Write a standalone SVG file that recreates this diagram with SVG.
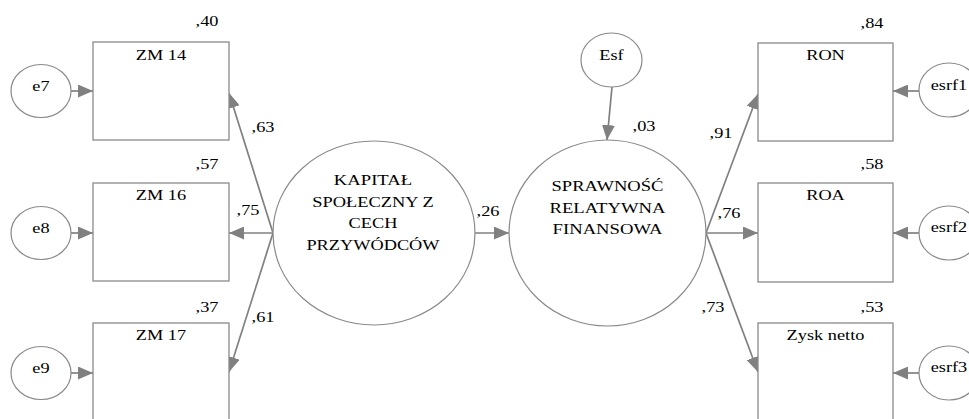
<svg xmlns="http://www.w3.org/2000/svg" width="969" height="419" viewBox="0 0 969 419">
<style>
.box{fill:#fff;stroke:#8a8a8a;stroke-width:1.3}
.ell{fill:#fff;stroke:#8a8a8a;stroke-width:1.2}
.con{stroke:#808080;stroke-width:1.7;fill:none;marker-end:url(#ah)}
</style>
<defs>
<marker id="ah" markerUnits="userSpaceOnUse" markerWidth="16" markerHeight="13" refX="15" refY="6.5" orient="auto">
<path d="M0,0 L15,6.5 L0,13 z" fill="#808080"/>
</marker>
</defs>
<rect width="969" height="419" fill="#fff"/>
<g id="connectors">
<line class="con" x1="71" y1="91" x2="93" y2="91"/>
<line class="con" x1="71" y1="233" x2="93" y2="233"/>
<line class="con" x1="71" y1="373" x2="93" y2="373"/>
<line class="con" x1="919" y1="91" x2="893" y2="91"/>
<line class="con" x1="919" y1="233" x2="893" y2="233"/>
<line class="con" x1="919" y1="373" x2="893" y2="373"/>
<line class="con" x1="273" y1="233" x2="229" y2="93"/>
<line class="con" x1="273" y1="233" x2="229" y2="233"/>
<line class="con" x1="273" y1="233" x2="229" y2="372"/>
<line class="con" x1="475" y1="233" x2="509" y2="233"/>
<line class="con" x1="612" y1="87" x2="607" y2="140"/>
<line class="con" x1="706" y1="233" x2="758" y2="94"/>
<line class="con" x1="706" y1="233" x2="758" y2="233"/>
<line class="con" x1="706" y1="233" x2="758" y2="372"/>
</g>
<g id="ZM14"><rect class="box" x="93" y="42" width="136" height="98"/><text x="161" y="60" font-family="Times New Roman, Liberation Serif, serif" font-size="15" text-anchor="middle" textLength="50.3" lengthAdjust="spacingAndGlyphs">ZM 14</text><text x="207" y="26" font-family="Times New Roman, Liberation Serif, serif" font-size="15" text-anchor="middle" textLength="22.9" lengthAdjust="spacingAndGlyphs">,40</text></g>
<g id="ZM16"><rect class="box" x="93" y="183" width="136" height="98"/><text x="161" y="200" font-family="Times New Roman, Liberation Serif, serif" font-size="15" text-anchor="middle" textLength="50.3" lengthAdjust="spacingAndGlyphs">ZM 16</text><text x="207" y="169" font-family="Times New Roman, Liberation Serif, serif" font-size="15" text-anchor="middle" textLength="22.9" lengthAdjust="spacingAndGlyphs">,57</text></g>
<g id="ZM17"><rect class="box" x="93" y="323" width="136" height="98"/><text x="161" y="340" font-family="Times New Roman, Liberation Serif, serif" font-size="15" text-anchor="middle" textLength="50.3" lengthAdjust="spacingAndGlyphs">ZM 17</text><text x="207" y="312" font-family="Times New Roman, Liberation Serif, serif" font-size="15" text-anchor="middle" textLength="22.9" lengthAdjust="spacingAndGlyphs">,37</text></g>
<g id="e7"><ellipse class="ell" cx="41" cy="91" rx="30" ry="26.5"/><text x="41" y="91" font-family="Times New Roman, Liberation Serif, serif" font-size="15" text-anchor="middle" textLength="17.3" lengthAdjust="spacingAndGlyphs">e7</text></g>
<g id="e8"><ellipse class="ell" cx="41" cy="233" rx="30" ry="26.5"/><text x="41" y="233" font-family="Times New Roman, Liberation Serif, serif" font-size="15" text-anchor="middle" textLength="17.3" lengthAdjust="spacingAndGlyphs">e8</text></g>
<g id="e9"><ellipse class="ell" cx="41" cy="373" rx="30" ry="26.5"/><text x="41" y="373" font-family="Times New Roman, Liberation Serif, serif" font-size="15" text-anchor="middle" textLength="17.3" lengthAdjust="spacingAndGlyphs">e9</text></g>
<g id="kapital"><ellipse class="ell" cx="374" cy="233" rx="101" ry="92"/>
<text x="373" y="185" font-family="Times New Roman, Liberation Serif, serif" font-size="15" text-anchor="middle" textLength="78.3" lengthAdjust="spacingAndGlyphs">KAPITAŁ</text>
<text x="373" y="207" font-family="Times New Roman, Liberation Serif, serif" font-size="15" text-anchor="middle" textLength="121.5" lengthAdjust="spacingAndGlyphs">SPOŁECZNY Z</text>
<text x="373" y="228" font-family="Times New Roman, Liberation Serif, serif" font-size="15" text-anchor="middle" textLength="48.8" lengthAdjust="spacingAndGlyphs">CECH</text>
<text x="373" y="250" font-family="Times New Roman, Liberation Serif, serif" font-size="15" text-anchor="middle" textLength="133.2" lengthAdjust="spacingAndGlyphs">PRZYWÓDCÓW</text>
</g>
<g id="sprawnosc"><ellipse class="ell" cx="607.5" cy="233" rx="98.5" ry="93"/>
<text x="607.5" y="191" font-family="Times New Roman, Liberation Serif, serif" font-size="15" text-anchor="middle" textLength="111.9" lengthAdjust="spacingAndGlyphs">SPRAWNOŚĆ</text>
<text x="607.5" y="212.5" font-family="Times New Roman, Liberation Serif, serif" font-size="15" text-anchor="middle" textLength="115.9" lengthAdjust="spacingAndGlyphs">RELATYWNA</text>
<text x="607.5" y="234" font-family="Times New Roman, Liberation Serif, serif" font-size="15" text-anchor="middle" textLength="109.8" lengthAdjust="spacingAndGlyphs">FINANSOWA</text>
<text x="644" y="131" font-family="Times New Roman, Liberation Serif, serif" font-size="15" text-anchor="middle" textLength="22.9" lengthAdjust="spacingAndGlyphs">,03</text>
</g>
<g id="Esf"><ellipse class="ell" cx="611.5" cy="60" rx="30.5" ry="27"/><text x="611.5" y="60" font-family="Times New Roman, Liberation Serif, serif" font-size="15" text-anchor="middle" textLength="24.4" lengthAdjust="spacingAndGlyphs">Esf</text></g>
<g id="RON"><rect class="box" x="758" y="43" width="135" height="98"/><text x="825.5" y="60" font-family="Times New Roman, Liberation Serif, serif" font-size="15" text-anchor="middle" textLength="38.6" lengthAdjust="spacingAndGlyphs">RON</text><text x="872" y="28" font-family="Times New Roman, Liberation Serif, serif" font-size="15" text-anchor="middle" textLength="22.9" lengthAdjust="spacingAndGlyphs">,84</text></g>
<g id="ROA"><rect class="box" x="758" y="183" width="135" height="99"/><text x="825.5" y="200" font-family="Times New Roman, Liberation Serif, serif" font-size="15" text-anchor="middle" textLength="38.6" lengthAdjust="spacingAndGlyphs">ROA</text><text x="872" y="169" font-family="Times New Roman, Liberation Serif, serif" font-size="15" text-anchor="middle" textLength="22.9" lengthAdjust="spacingAndGlyphs">,58</text></g>
<g id="Zysk"><rect class="box" x="758" y="323" width="135" height="98"/><text x="825.5" y="340" font-family="Times New Roman, Liberation Serif, serif" font-size="15" text-anchor="middle" textLength="77.8" lengthAdjust="spacingAndGlyphs">Zysk netto</text><text x="872" y="312" font-family="Times New Roman, Liberation Serif, serif" font-size="15" text-anchor="middle" textLength="22.9" lengthAdjust="spacingAndGlyphs">,53</text></g>
<g id="esrf1"><ellipse class="ell" cx="949" cy="90" rx="30" ry="27"/><text x="949" y="90" font-family="Times New Roman, Liberation Serif, serif" font-size="15" text-anchor="middle" textLength="36.6" lengthAdjust="spacingAndGlyphs">esrf1</text></g>
<g id="esrf2"><ellipse class="ell" cx="949" cy="233" rx="30" ry="27"/><text x="949" y="232" font-family="Times New Roman, Liberation Serif, serif" font-size="15" text-anchor="middle" textLength="36.6" lengthAdjust="spacingAndGlyphs">esrf2</text></g>
<g id="esrf3"><ellipse class="ell" cx="949" cy="373" rx="30" ry="27"/><text x="949" y="372" font-family="Times New Roman, Liberation Serif, serif" font-size="15" text-anchor="middle" textLength="36.6" lengthAdjust="spacingAndGlyphs">esrf3</text></g>
<g id="edge-labels">
<text x="263" y="132" font-family="Times New Roman, Liberation Serif, serif" font-size="15" text-anchor="middle" textLength="22.9" lengthAdjust="spacingAndGlyphs">,63</text>
<text x="248" y="215" font-family="Times New Roman, Liberation Serif, serif" font-size="15" text-anchor="middle" textLength="22.9" lengthAdjust="spacingAndGlyphs">,75</text>
<text x="263" y="322" font-family="Times New Roman, Liberation Serif, serif" font-size="15" text-anchor="middle" textLength="22.9" lengthAdjust="spacingAndGlyphs">,61</text>
<text x="488" y="216" font-family="Times New Roman, Liberation Serif, serif" font-size="15" text-anchor="middle" textLength="22.9" lengthAdjust="spacingAndGlyphs">,26</text>
<text x="721" y="138" font-family="Times New Roman, Liberation Serif, serif" font-size="15" text-anchor="middle" textLength="22.9" lengthAdjust="spacingAndGlyphs">,91</text>
<text x="729" y="218" font-family="Times New Roman, Liberation Serif, serif" font-size="15" text-anchor="middle" textLength="22.9" lengthAdjust="spacingAndGlyphs">,76</text>
<text x="713" y="312" font-family="Times New Roman, Liberation Serif, serif" font-size="15" text-anchor="middle" textLength="22.9" lengthAdjust="spacingAndGlyphs">,73</text>
</g>
</svg>
